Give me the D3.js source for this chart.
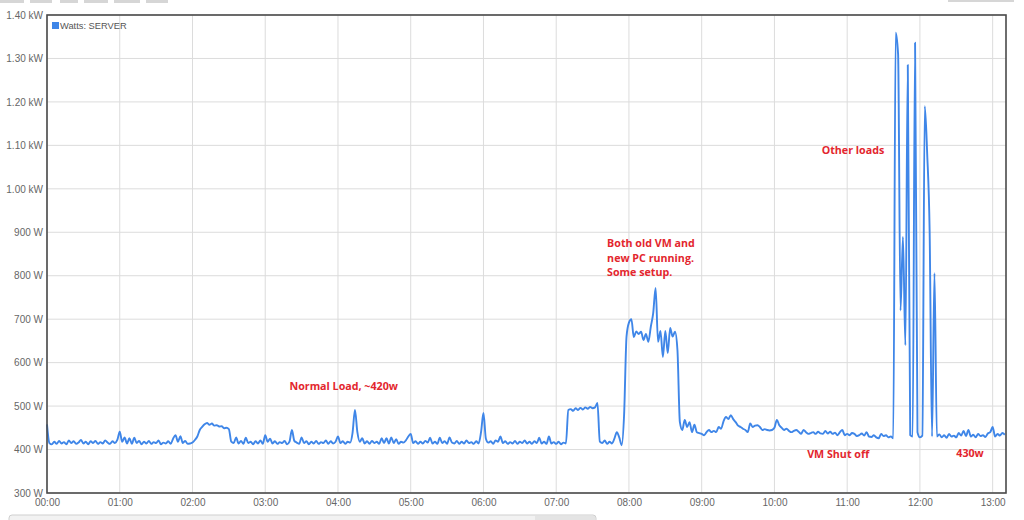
<!DOCTYPE html>
<html>
<head>
<meta charset="utf-8">
<script src="https://cdn.jsdelivr.net/npm/d3@7"></script>
<style>
  body { margin: 0; background: #fff; overflow: hidden; }
  .canvas { width: 1024px; height: 520px; position: relative; }
  .axis text { font-family: "Liberation Sans", Arial, sans-serif; font-size: 10px; fill: #666; }
  .note { font-family: "Open Sans", sans-serif; font-weight: bold; font-size: 10.7px; fill: #e3262e; }
</style>
</head>
<body>
<div class="canvas"></div>
<script>
// power log, one sample every 2 minutes from 00:00
const startTime = new Date(2020, 0, 1, 0, 0);
const stepMinutes = 2;
const endMinutes = 791;

const watts = [
  458, 415, 412, 418, 413, 420, 414, 417, 412, 421,
  415, 419, 413, 416, 422, 414, 418, 412, 419, 415,
  420, 413, 417, 414, 421, 416, 413, 419, 415, 422,
  441, 418, 428, 414, 426, 413, 427, 415, 420, 412,
  418, 414, 420, 413, 417, 415, 421, 412, 416, 414,
  419, 413, 425, 433, 418, 431, 415, 420, 413, 414,
  416, 422, 430, 445, 452, 458, 461, 457, 460, 455,
  456, 453, 454, 449, 450, 447, 418, 415, 428, 414,
  420, 413, 427, 415, 418, 412, 419, 414, 421, 413,
  433, 418, 425, 414, 419, 413, 417, 415, 420, 412,
  418, 445, 420, 416, 413, 428, 415, 419, 412, 418,
  414, 420, 413, 417, 415, 421, 413, 419, 414, 418,
  430, 415, 419, 413, 418, 416, 438, 491, 440, 418,
  426, 414, 419, 413, 420, 415, 418, 413, 426, 415,
  426, 414, 428, 415, 424, 413, 418, 416, 421, 430,
  436, 415, 419, 413, 418, 414, 420, 416, 427, 414,
  418, 413, 427, 415, 419, 413, 428, 416, 414, 420,
  413, 418, 414, 421, 415, 417, 413, 419, 414, 440,
  484, 425, 416, 419, 413, 421, 418, 430, 415, 419,
  413, 417, 414, 420, 413, 418, 415, 421, 414, 418,
  413, 419, 415, 427, 414, 418, 413, 430, 414, 417,
  413, 418, 412, 416, 414, 491, 493, 489, 495, 491,
  496, 492, 497, 494, 498, 495, 497, 507, 418, 415,
  421, 413, 418, 414, 425, 440, 428, 410, 480, 660,
  692, 700, 659, 672, 666, 671, 652, 666, 648, 682,
  714, 772, 648, 673, 613, 673, 622, 680, 660, 671,
  629, 463, 445, 468, 452, 463, 440, 457, 440, 438,
  436, 433, 440, 445, 440, 443, 440, 452, 448, 465,
  475, 470, 479, 470, 463, 455, 452, 448, 445, 440,
  460, 452, 455, 456, 452, 445, 447, 445, 444, 445,
  450, 468, 456, 450, 445, 448, 443, 440, 443, 445,
  441, 436, 445, 440, 436, 438, 440, 436, 441, 437,
  436, 443, 437, 441, 436, 439, 433, 440, 445, 433,
  436, 433, 438, 436, 431, 433, 437, 432, 440, 430,
  429, 433, 428, 426, 436, 431, 433, 428, 430, 426,
  1359, 1310, 720, 889, 640, 1285, 433, 430, 1336, 440,
  428, 432, 1190, 1080, 905, 430, 806, 430, 435, 428,
  433, 427, 436, 430, 432, 428, 438, 432, 443, 431,
  445, 430, 434, 428, 436, 431, 433, 429, 437, 440,
  452, 430, 436, 432, 438, 434
];

const yTicks = [300, 400, 500, 600, 700, 800, 900, 1000, 1100, 1200, 1300, 1400];
const seriesName = 'Watts: SERVER';
const noteTexts = [
  ['Normal Load, ~420w'],
  ['Both old VM and', 'new PC running.', 'Some setup.'],
  ['Other loads'],
  ['VM Shut off'],
  ['430w']
];

const margin = { top: 15, right: 18, bottom: 27, left: 47 };
const graphWidth = 1024 - margin.left - margin.right;
const graphHeight = 520 - margin.top - margin.bottom;

const data = watts.map((w, i) => ({
  date: d3.timeMinute.offset(startTime, i * stepMinutes),
  watts: w
}));

const svg = d3.select('.canvas')
  .append('svg')
  .attr('width', 1024)
  .attr('height', 520);

// page bits around the chart
const tabs = [[0, 24], [30, 52], [60, 78], [84, 108], [114, 140], [146, 168]];
tabs.forEach(t => {
  svg.append('rect').attr('x', t[0]).attr('y', 0).attr('width', t[1] - t[0]).attr('height', 3).attr('fill', '#d6d6d6');
});
svg.append('rect').attr('x', 948).attr('y', 0).attr('width', 66).attr('height', 2).attr('fill', '#d6d6d6');
svg.append('rect')
  .attr('x', 9).attr('y', 515).attr('width', 587).attr('height', 10)
  .attr('rx', 3)
  .attr('fill', '#f2f2f2').attr('stroke', '#cfcfcf');
svg.append('rect')
  .attr('x', 535).attr('y', 516).attr('width', 60).attr('height', 8)
  .attr('fill', '#e4e4e4');

const graph = svg.append('g')
  .attr('transform', `translate(${margin.left}, ${margin.top})`);

const x = d3.scaleTime()
  .domain([startTime, d3.timeMinute.offset(startTime, endMinutes)])
  .range([0, graphWidth]);
const y = d3.scaleLinear().domain([300, 1400]).range([graphHeight, 0]);

// grid
graph.append('g')
  .selectAll('line')
  .data(yTicks)
  .enter().append('line')
    .attr('x1', 0).attr('x2', graphWidth)
    .attr('y1', d => y(d)).attr('y2', d => y(d))
    .attr('stroke', '#dcdcdc');

graph.append('g')
  .selectAll('line')
  .data(x.ticks(d3.timeHour.every(1)))
  .enter().append('line')
    .attr('x1', d => x(d)).attr('x2', d => x(d))
    .attr('y1', 0).attr('y2', graphHeight)
    .attr('stroke', '#dcdcdc');

// axes
const yAxis = d3.axisLeft(y)
  .tickValues(yTicks)
  .tickSize(0)
  .tickPadding(4)
  .tickFormat(d => d < 1000 ? d + ' W' : (d / 1000).toFixed(2) + ' kW');

const xAxis = d3.axisBottom(x)
  .ticks(d3.timeHour.every(1))
  .tickSize(0)
  .tickPadding(6)
  .tickFormat(d3.timeFormat('%H:%M'));

const yAxisGroup = graph.append('g').attr('class', 'axis').call(yAxis);
const xAxisGroup = graph.append('g').attr('class', 'axis')
  .attr('transform', `translate(0, ${graphHeight})`)
  .call(xAxis);
yAxisGroup.select('.domain').remove();
xAxisGroup.select('.domain').remove();

// series
const line = d3.line()
  .curve(d3.curveMonotoneX)
  .x(d => x(d.date))
  .y(d => y(d.watts));

graph.append('path')
  .datum(data)
  .attr('fill', 'none')
  .attr('stroke', '#3f86e8')
  .attr('stroke-width', 1.9)
  .attr('stroke-linejoin', 'round')
  .attr('d', line);

// frame
graph.append('rect')
  .attr('width', graphWidth)
  .attr('height', graphHeight)
  .attr('fill', 'none')
  .attr('stroke', '#4a4a4a')
  .attr('stroke-width', 1.6);

// legend
graph.append('rect')
  .attr('x', 5).attr('y', 7).attr('width', 7).attr('height', 7)
  .attr('fill', '#3f86e8');
graph.append('text')
  .attr('x', 13).attr('y', 13.5)
  .style('font-family', '"Liberation Sans", Arial, sans-serif')
  .style('font-size', '9.3px')
  .attr('fill', '#555')
  .text(seriesName);

// notes, anchored at (time in minutes, watts)
const noteAnchors = [[200, 538], [462, 866], [639, 1080], [627, 380], [750, 382]];
noteTexts.forEach((lines, i) => {
  const nx = x(d3.timeMinute.offset(startTime, noteAnchors[i][0]));
  const t = graph.append('text')
    .attr('class', 'note')
    .attr('x', nx)
    .attr('y', y(noteAnchors[i][1]));
  lines.forEach((l, j) => {
    t.append('tspan')
      .attr('x', nx)
      .attr('dy', j === 0 ? 0 : 14.5)
      .text(l);
  });
});
</script>
</body>
</html>
